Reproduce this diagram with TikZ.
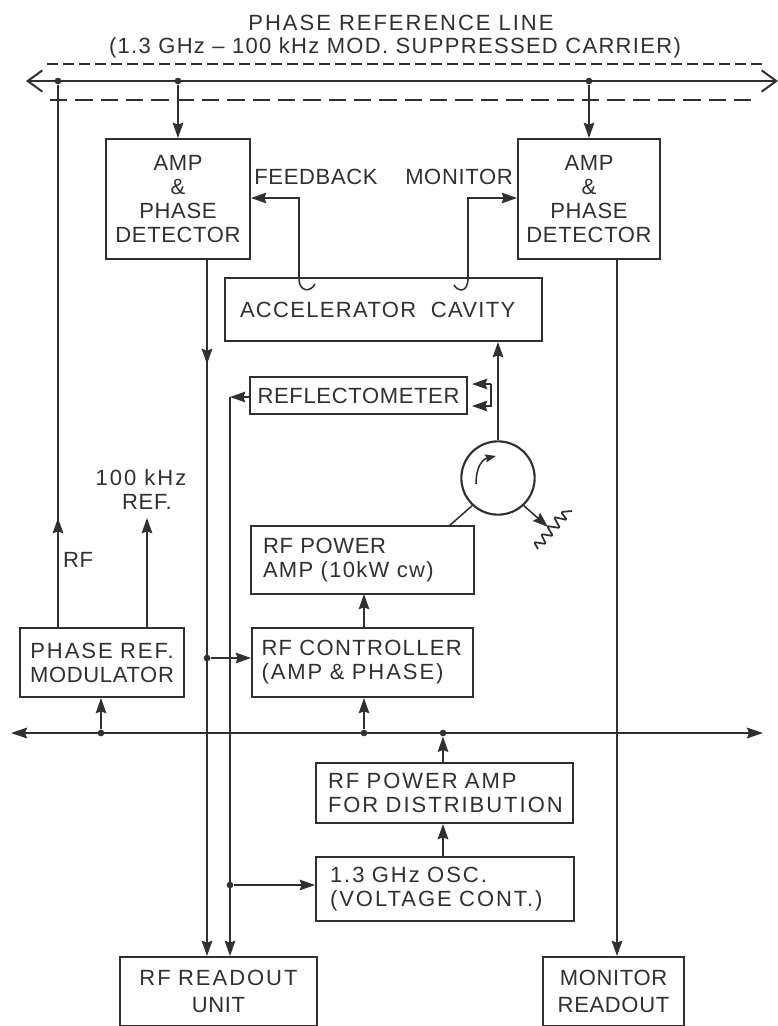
\documentclass[tikz,border=0pt]{standalone}
\usepackage{fontspec}
\setmainfont[LetterSpace=3]{Liberation Sans}
\newfontface\lb[LetterSpace=6]{Liberation Sans}
\newfontface\lc[LetterSpace=9]{Liberation Sans}
\usetikzlibrary{arrows.meta}
\definecolor{ink}{HTML}{303030}
\tikzset{
  wire/.style={draw=ink,line width=1.15pt},
  fat/.style={draw=ink,line width=1.5pt},
  tip/.style={-{Stealth[length=11.5pt,width=8pt,inset=1.5pt]}},
  dot/.style={circle,fill=ink,inner sep=0pt,minimum size=5pt},
  lbl/.style={text=ink,font=\fontsize{16.5}{18}\selectfont,align=center,inner sep=0pt},
  box/.style={draw=ink,line width=1.5pt,text=ink,font=\fontsize{16.5}{18}\selectfont},
}
% name, x1,y1,x2,y2, left pad (px), alignment, text
\newcommand{\bx}[8]{%
  \pgfmathsetmacro{\bw}{(#4-#2)*0.75}%
  \pgfmathsetmacro{\bh}{(#5-#3)*0.75}%
  \pgfmathsetmacro{\bp}{#6*0.75}%
  \node[box,minimum width=\bw pt,minimum height=\bh pt,inner xsep=\bp pt,inner ysep=0pt,
        text width={\bw pt-2*\bp pt},align=#7] (#1) at ({(#2+#4)/2},{(#3+#5)/2}) {#8};}
\begin{document}
\begin{tikzpicture}[x=0.75pt,y=-0.75pt]
\useasboundingbox[fill=white] (0,0) rectangle (778,1026);
% boxes
\bx{ampa}{106}{139}{250}{259}{0}{center}{AMP\\\&\\PHASE\\DETECTOR}
\bx{ampb}{518}{139}{660}{259}{0}{center}{AMP\\\&\\PHASE\\DETECTOR}
\bx{cav}{225}{278}{542}{341}{15}{left}{\lb ACCELERATOR\ \ CAVITY}
\bx{refl}{250}{377}{467}{414}{0}{center}{REFLECTOMETER}
\bx{pamp}{251}{526}{474}{594}{12}{left}{RF POWER\\{\lb AMP (10kW cw)}}
\bx{ctrl}{252}{628}{473}{697}{9.5}{left}{{\lb RF CONTROLLER}\\{\lc (AMP \& PHASE)}}
\bx{mod}{20}{628}{184}{697}{0}{center}{{\lc PHASE REF.}\\MODULATOR}
\bx{dist}{316}{763}{573}{823}{12}{left}{\lc RF POWER AMP\\FOR DISTRIBUTION}
\bx{osc}{316}{857}{574}{921}{14}{left}{\lc 1.3 GHz OSC.\\(VOLTAGE CONT.)}
\bx{rdo}{120}{957}{317}{1026}{0}{center}{{\lc RF READOUT}\\[2pt]UNIT}
\bx{mon}{543}{957}{684}{1026}{0}{center}{MONITOR\\[2pt]READOUT}
\node[draw=ink,line width=1.6pt,circle,minimum size=55pt,inner sep=0pt] (circ) at (498,478) {};
% text
\node[lbl] (title) at (401,23) {\lc PHASE REFERENCE LINE};
\node[lbl] (title2) at (395,48) {\lb (1.3 GHz – 100 kHz MOD. SUPPRESSED CARRIER)};
\node[lbl] (fb) at (316,177) {FEEDBACK};
\node[lbl] (mo) at (459,177) {MONITOR};
\node[lbl] (khz) at (141,490) {\lc 100 kHz\\\hspace*{9pt}REF.};
\node[lbl] (rf) at (78,560) {RF};
% top bus
\coordinate (busl) at (26,81);
\coordinate (busr) at (778,81);
\draw[fat,{Straight Barb[length=11pt,width=16pt]}-{Straight Barb[length=11pt,width=16pt]}] (busl) -- (busr);
\coordinate (dua) at (47,64); \coordinate (dub) at (762,64);
\coordinate (dla) at (50,100); \coordinate (dlb) at (757,100);
\draw[draw=ink,line width=0.8pt,dash pattern=on 8pt off 4pt] (dua) -- (dub);
\draw[draw=ink,line width=1.4pt,dash pattern=on 13pt off 6pt] (dla) -- (dlb);
\node[dot] (ja) at (58,81) {};
\node[dot] (jb) at (178,81) {};
\node[dot] (jc) at (589,81) {};
\draw[wire,tip] (jb) -- (jb |- ampa.north);
\draw[wire,tip] (jc) -- (jc |- ampb.north);
% RF and 100 kHz
\coordinate (rftip) at (58,518);
\coordinate (khztip) at (147,518);
\draw[wire,tip] (rftip |- mod.north) -- (rftip);
\draw[wire] (rftip |- mod.north) -- (ja);
\draw[wire,tip] (khztip |- mod.north) -- (khztip);
% feedback and monitor
\coordinate (fbh) at (299,198);
\coordinate (mnh) at (468,198);
\coordinate (fbe) at (315,284);
\coordinate (mne) at (454,285);
\draw[wire,tip] (fbe) .. controls (311,292) and (299,293) .. (299,278) -- (fbh) -- (fbh -| ampa.east);
\draw[wire,tip] (mne) .. controls (458,292) and (468,293) .. (468,278) -- (mnh) -- (mnh -| ampb.west);
% detector outputs
\coordinate (lda) at (207,364);
\coordinate (ldb) at (230,397);
\coordinate (mdo) at (617,300);
\draw[wire,tip] (ampa.south -| lda) -- (lda);
\draw[wire,tip] (ampa.south -| lda) -- (lda |- rdo.north);
\draw[wire,tip] (ampb.south -| mdo) -- (mdo |- mon.north);
\draw[wire,tip] (refl.west |- ldb) -- (ldb);
\draw[wire,tip] (ldb) -- (ldb |- rdo.north);
\node[dot] (jd) at (207,658) {};
\node[dot] (je) at (230,885) {};
\draw[wire,tip] (jd) -- (jd -| ctrl.west);
\draw[wire,tip] (je) -- (je -| osc.west);
% circulator
\draw[wire,tip] (circ.north) -- (circ.north |- cav.south);
\coordinate (pa) at (449,526);
\draw[wire] (pa) -- (circ.227);
\coordinate (cirin) at (476,484);
\coordinate (cirout) at (496,456);
\draw[wire,-{Stealth[length=8pt,width=6pt,inset=1pt]}] (cirin) .. controls (476,466) and (483,459) .. (cirout);
\coordinate (rtip) at (548,527);
\draw[wire,tip] (circ.-47) -- (rtip);
\coordinate (zz) at (538,549);
\draw[draw=ink,line width=1.3pt,line join=round,rounded corners=1pt] (zz) -- (534,542) -- (546,544) -- (541,534) -- (553,536) -- (547,526) -- (560,528) -- (554,517) -- (567,520) -- (561,512) -- (572,511);
% reflectometer loop
\coordinate (lpa) at (472,384); \coordinate (lpb) at (491,384);
\coordinate (lpc) at (491,406); \coordinate (lpd) at (472,406);
\draw[wire,tip] (lpb) -- (lpa);
\draw[wire,tip] (lpb) -- (lpc) -- (lpd);
% power amp to controller
\coordinate (pc) at (364,594);
\draw[wire,tip] (ctrl.north -| pc) -- (pc);
% lower bus
\coordinate (lbl) at (11,733);
\coordinate (lbr) at (763,733);
\draw[fat,{Stealth[length=12pt,width=8pt,inset=1.5pt]}-{Stealth[length=12pt,width=8pt,inset=1.5pt]}] (lbl) -- (lbr);
\node[dot] (jf) at (101,733) {};
\node[dot] (jg) at (364,733) {};
\node[dot] (jh) at (443,733) {};
\draw[wire,tip] (jf) -- (jf |- mod.south);
\draw[wire,tip] (jg) -- (jg |- ctrl.south);
\draw[wire,tip] (jh |- dist.north) -- (jh);
\draw[wire,tip] (jh |- osc.north) -- (jh |- dist.south);
\end{tikzpicture}
\end{document}
